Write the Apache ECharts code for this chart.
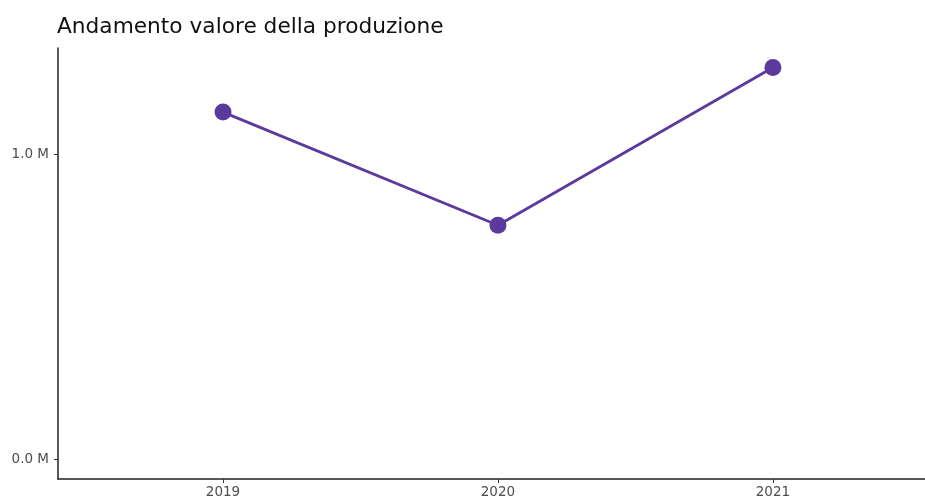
<!DOCTYPE html>
<html><head><meta charset="utf-8">
<script src="https://cdn.jsdelivr.net/npm/echarts@6/dist/echarts.min.js"></script>
<style>html,body{margin:0;padding:0;background:#fff}#c{width:925px;height:499px}</style>
</head><body><div id="c"></div>
<script>
const categories = ["2019", "2020", "2021"];
const values = [1138000, 767000, 1284000];
const yTickValues = [0, 1000000];
const yTickLabels = ["0.0 M", "1.0 M"];

const chart = echarts.init(document.getElementById('c'), null, {renderer: 'canvas'});
const font = 'DejaVu Sans';
chart.setOption({
  animation: false,
  title: {
    text: 'Andamento valore della produzione',
    left: 52, top: 11,
    textStyle: {fontFamily: font, fontSize: 21.7, fontWeight: 'normal', color: '#111'}
  },
  grid: {left: 58, top: 48, bottom: 20, right: 0},
  xAxis: {
    type: 'value', min: 0.4, max: 3.553,
    splitLine: {show: false},
    axisLine: {show: true, onZero: false, lineStyle: {color: '#222', width: 1.5}},
    axisTick: {show: true, customValues: [1, 2, 3], length: 4, lineStyle: {color: '#333'}},
    axisLabel: {customValues: [1, 2, 3], formatter: v => categories[Math.round(v) - 1] || '',
      fontFamily: font, fontSize: 13.5, color: '#4d4d4d', margin: 6}
  },
  yAxis: {
    type: 'value', min: -64200, max: 1348000,
    splitLine: {show: false},
    axisLine: {show: true, onZero: false, lineStyle: {color: '#222', width: 1.5}},
    axisTick: {show: true, customValues: yTickValues, length: 4, lineStyle: {color: '#333'}},
    axisLabel: {customValues: yTickValues, formatter: v => yTickLabels[yTickValues.indexOf(v)] || '',
      fontFamily: font, fontSize: 13.5, color: '#4d4d4d', margin: 9}
  },
  series: [{
    type: 'line',
    data: values.map((v, i) => [i + 1, v]),
    lineStyle: {color: '#5b3a9e', width: 2.8},
    itemStyle: {color: '#5b3a9e'},
    symbol: 'circle', symbolSize: 17
  }]
});
</script></body></html>
